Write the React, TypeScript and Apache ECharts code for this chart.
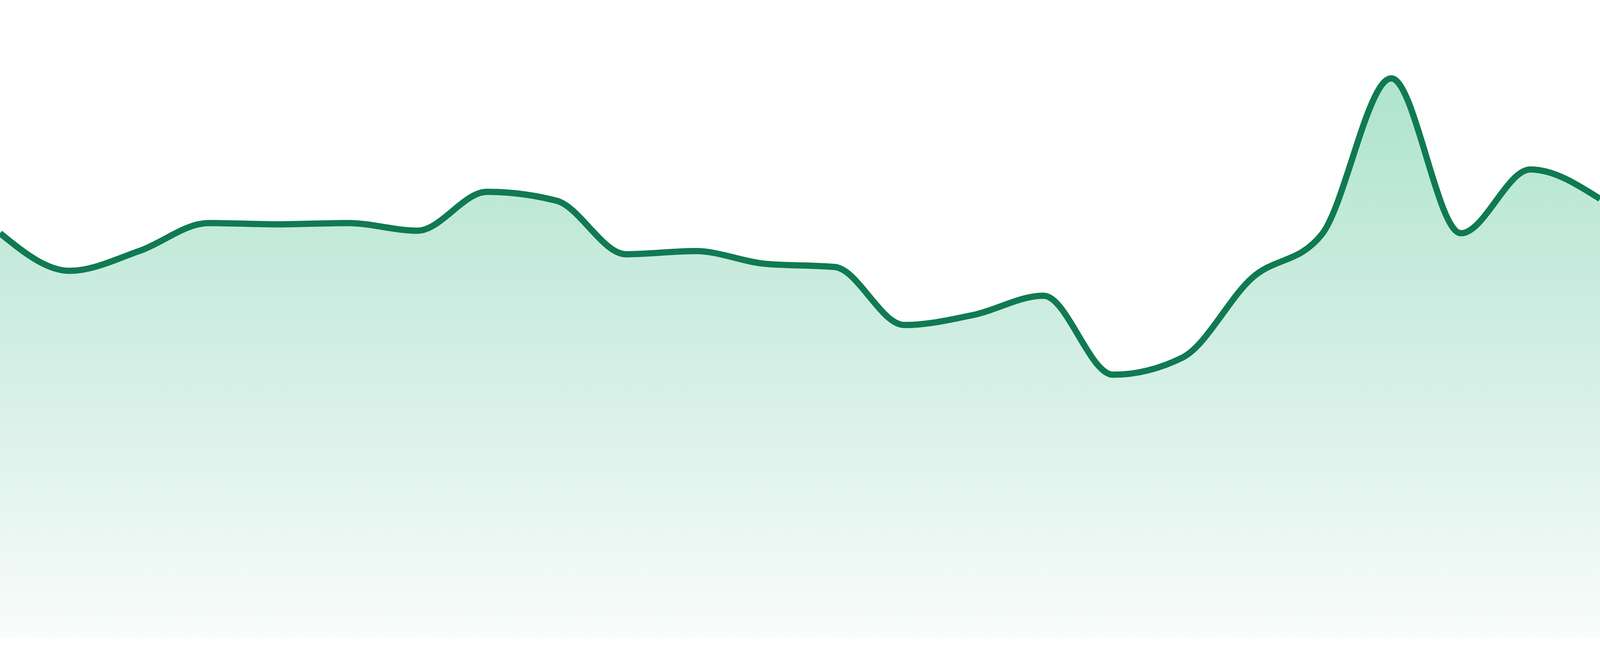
import React, { useEffect, useRef } from "react";
import * as echarts from "echarts";

const days = [
  "01", "02", "03", "04", "05", "06", "07", "08", "09", "10", "11", "12",
  "13", "14", "15", "16", "17", "18", "19", "20", "21", "22", "23", "24",
];

const values = [
  63.4, 57.5, 60.6, 65.0, 64.8, 65.0, 63.8, 69.9, 68.5, 60.1, 60.6, 58.6,
  58.1, 49.0, 50.6, 53.6, 41.2, 43.9, 56.4, 63.2, 87.7, 63.4, 73.4, 68.8,
];

// monotone cubic (like d3.curveMonotoneX) through screen points
const monotonePath = (pts: number[][]) => {
  const n = pts.length;
  const m: number[] = new Array(n).fill(0);
  const sign = (v: number) => (v < 0 ? -1 : 1);
  for (let i = 1; i < n - 1; i++) {
    const h0 = pts[i][0] - pts[i - 1][0];
    const h1 = pts[i + 1][0] - pts[i][0];
    const s0 = (pts[i][1] - pts[i - 1][1]) / h0;
    const s1 = (pts[i + 1][1] - pts[i][1]) / h1;
    const p = (s0 * h1 + s1 * h0) / (h0 + h1);
    m[i] = (sign(s0) + sign(s1)) * Math.min(Math.abs(s0), Math.abs(s1), 0.5 * Math.abs(p)) || 0;
  }
  const sFirst = (pts[1][1] - pts[0][1]) / (pts[1][0] - pts[0][0]);
  const sLast = (pts[n - 1][1] - pts[n - 2][1]) / (pts[n - 1][0] - pts[n - 2][0]);
  m[0] = (3 * sFirst - m[1]) / 2;
  m[n - 1] = (3 * sLast - m[n - 2]) / 2;

  let d = `M${pts[0][0]},${pts[0][1]}`;
  for (let i = 0; i < n - 1; i++) {
    const [x0, y0] = pts[i];
    const [x1, y1] = pts[i + 1];
    const dx = (x1 - x0) / 3;
    d += ` C${x0 + dx},${y0 + dx * m[i]} ${x1 - dx},${y1 - dx * m[i + 1]} ${x1},${y1}`;
  }
  return d;
};

const App = () => {
  const chartRef = useRef<HTMLDivElement>(null);

  useEffect(() => {
    if (!chartRef.current) return;
    document.body.style.margin = "0";

    const chart = echarts.init(chartRef.current, undefined, { renderer: "svg" });

    const option: echarts.EChartsOption = {
      animation: false,
      grid: { left: 0, right: 0, top: 0, bottom: 48 },
      xAxis: {
        type: "category",
        data: days,
        boundaryGap: false,
        show: false,
      },
      yAxis: {
        type: "value",
        min: 0,
        max: 100,
        show: false,
      },
      series: [
        {
          type: "custom",
          clip: false,
          data: values.map((v, i) => [i, v]),
          encode: { x: 0, y: 1 },
          renderItem: (params: any, api: any) => {
            if (params.dataIndexInside !== 0) return null;
            const pts = values.map((v, i) => api.coord([i, v]));
            const base = api.coord([0, 0])[1];
            const line = monotonePath(pts);
            const area = `${line} L${pts[pts.length - 1][0]},${base} L${pts[0][0]},${base} Z`;
            return {
              type: "group",
              children: [
                {
                  type: "path",
                  shape: { pathData: area },
                  style: {
                    fill: new echarts.graphic.LinearGradient(0, 0, 0, 1, [
                      { offset: 0, color: "rgba(30,180,120,0.36)" },
                      { offset: 1, color: "rgba(30,160,120,0.03)" },
                    ]),
                  },
                },
                {
                  type: "path",
                  shape: { pathData: line },
                  style: { fill: "none", stroke: "#107a52", lineWidth: 16, lineJoin: "round" },
                },
              ],
            };
          },
        },
      ],
    };

    chart.setOption(option);

    const handleResize = () => chart.resize();
    window.addEventListener("resize", handleResize);

    return () => {
      chart.dispose();
      window.removeEventListener("resize", handleResize);
    };
  }, []);

  return <div ref={chartRef} style={{ width: "100vw", height: "100vh" }} />;
};

export default App;
